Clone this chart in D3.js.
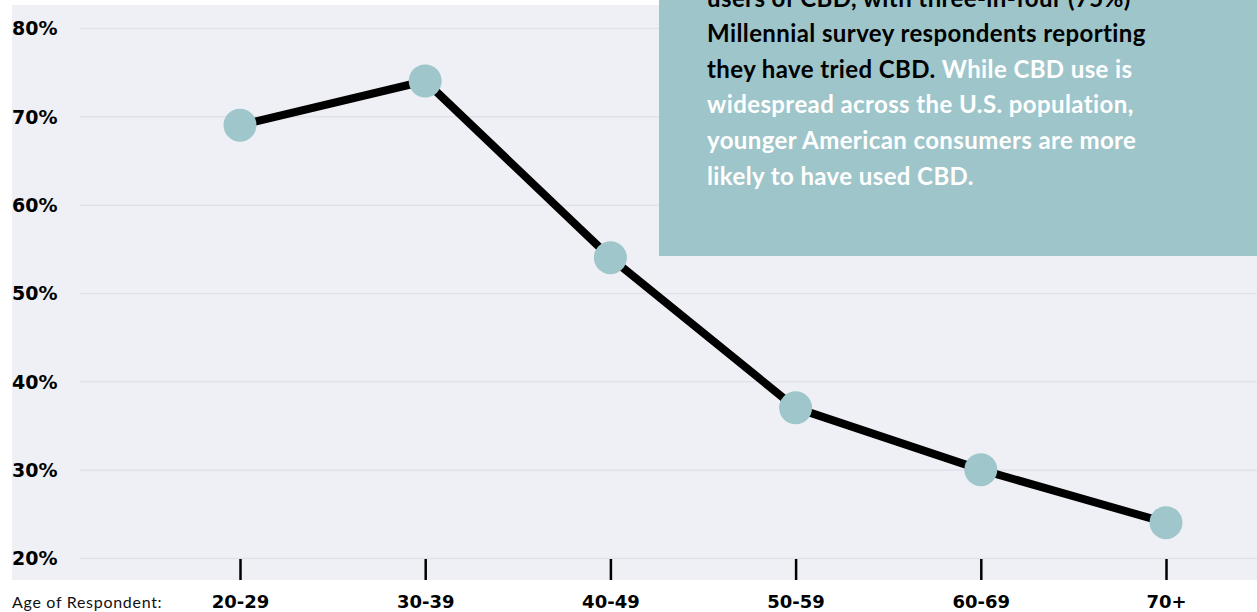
<!DOCTYPE html>
<html><head><meta charset="utf-8">
<script src="https://cdn.jsdelivr.net/npm/d3@7"></script>
<style>
html,body{margin:0;padding:0;background:#fff;}
svg{display:block;}
</style></head>
<body>
<svg id="c" width="1257" height="612"></svg>
<script>
const categories = ["20-29","30-39","40-49","50-59","60-69","70+"];
const values = [69, 74, 54, 37, 30, 24];
const yTicks = [20,30,40,50,60,70,80];
const xAxisTitle = "Age of Respondent:";
const noteLines = [
  [{t:"users of CBD, with three-in-four (75%)", c:"#000"}],
  [{t:"Millennial survey respondents reporting", c:"#000"}],
  [{t:"they have tried CBD. ", c:"#000"},{t:"While CBD use is", c:"#fff"}],
  [{t:"widespread across the U.S. population,", c:"#fff"}],
  [{t:"younger American consumers are more", c:"#fff"}],
  [{t:"likely to have used CBD.", c:"#fff"}]
];

const W = 1257, H = 612;
const svg = d3.select("#c");
const dot = "#9fc6ca";

// panel background
svg.append("rect").attr("x",12).attr("y",5).attr("width",W-12).attr("height",575).attr("fill","#eff0f5");

const x = d3.scalePoint().domain(categories).range([240,1166]);
const y = d3.scaleLinear().domain([20,80]).range([558,28]);

// y grid + labels
const gy = svg.append("g").attr("transform","translate(80,0)")
  .call(d3.axisRight(y).tickValues(yTicks).tickSize(W-80).tickFormat(d=>d+"%"));
gy.select(".domain").remove();
gy.selectAll(".tick line").attr("stroke","#e0e1ea").attr("stroke-width",1.5);
gy.selectAll(".tick text").attr("x",-68).attr("dy","0.36em").attr("text-anchor","start")
  .attr("font-family","'DejaVu Sans', sans-serif").attr("font-weight","bold")
  .attr("font-size","19px").attr("fill","#000");

// x axis ticks + labels
const gx = svg.append("g").attr("transform","translate(0,559)")
  .call(d3.axisBottom(x).tickSize(21));
gx.select(".domain").remove();
gx.selectAll(".tick line").attr("stroke","#000").attr("stroke-width",2.5);
gx.selectAll(".tick text").attr("y",49).attr("dy",0)
  .attr("font-family","'DejaVu Sans', sans-serif").attr("font-weight","bold")
  .attr("font-size","18px").attr("fill","#000");

svg.append("text").attr("x",12).attr("y",608).text(xAxisTitle)
  .attr("font-family","Lato, sans-serif").attr("font-size","16px").attr("letter-spacing","0.7px").attr("fill","#111");

// line
const data = categories.map((c,i)=>({c, v:values[i]}));
svg.append("path").datum(data)
  .attr("d", d3.line().x(d=>x(d.c)).y(d=>y(d.v)))
  .attr("fill","none").attr("stroke","#000").attr("stroke-width",8).attr("stroke-linejoin","round");
svg.selectAll("circle.pt").data(data).join("circle").attr("class","pt")
  .attr("cx",d=>x(d.c)).attr("cy",d=>y(d.v)).attr("r",16.5).attr("fill",dot);

// annotation box
svg.append("rect").attr("x",659).attr("y",0).attr("width",W-659).attr("height",256).attr("fill","#9ec5c9");
const note = svg.append("text").attr("font-family","Lato, sans-serif").attr("font-weight","bold")
  .attr("font-size","24px").attr("letter-spacing","0.4px");
noteLines.forEach((line,i)=>{
  const t = note.append("tspan").attr("x",707).attr("y",6.5+i*35.6);
  line.forEach((seg,j)=>{
    const s = j===0 ? t : note.append("tspan");
    s.attr("fill",seg.c).text(seg.t);
  });
});
</script>
</body></html>
